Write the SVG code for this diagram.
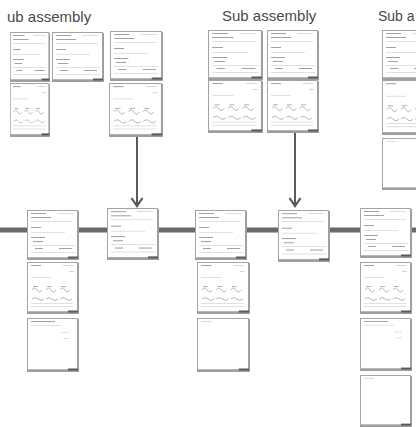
<svg xmlns="http://www.w3.org/2000/svg" xmlns:xlink="http://www.w3.org/1999/xlink" width="416" height="427" viewBox="0 0 416 427">
<style>
.title{font-family:"Liberation Sans",Arial,sans-serif;font-size:15px;fill:#4a4a4a}
.frame{fill:#fff;stroke:#a4a4a4;stroke-width:1}
.shadow{fill:#9e9e9e}
.tick{fill:#5a5a5a}
.t1{fill:#a2a2a2}
.t2{fill:#cdcdcd}
.wave{fill:none;stroke:#b0b0b0;stroke-width:0.9}
.main{stroke:#6a6a6a;stroke-width:5}
.arrow{stroke:#5a5a5a;stroke-width:2;fill:none}
</style>
<defs>
<marker id="ah" viewBox="0 0 12 14" refX="10" refY="7" markerWidth="12" markerHeight="14" markerUnits="userSpaceOnUse" orient="auto">
<path d="M2 1.5 L10 7 L2 12.5" fill="none" stroke="#5a5a5a" stroke-width="2.2"/>
</marker>
<symbol id="form" viewBox="0 0 52 50" preserveAspectRatio="none">
<rect class="frame" x="0.5" y="0.5" width="50" height="47.5"/>
<rect class="shadow" x="0" y="47.5" width="52" height="2.5"/>
<rect class="shadow" x="50.5" y="1" width="1.5" height="48"/>
<rect class="tick" x="41" y="46.5" width="10" height="2"/>
<rect class="t1" x="4" y="3" width="15" height="1"/>
<rect class="t2" x="30" y="3" width="16" height="0.7"/>
<rect class="t1" x="4" y="7" width="20" height="1"/>
<rect class="t2" x="4" y="11" width="42" height="0.6"/>
<rect class="t1" x="4" y="17" width="10" height="1"/>
<rect class="t2" x="4" y="22" width="34" height="0.6"/>
<rect class="t1" x="4" y="27" width="14" height="1"/>
<rect class="t1" x="6" y="31" width="10" height="1"/>
<rect class="t2" x="4" y="35" width="44" height="0.6"/>
<rect class="t1" x="8" y="38" width="8" height="1"/>
<rect class="t1" x="32" y="38" width="13" height="1"/>
<rect class="t2" x="4" y="42" width="44" height="0.6"/>
</symbol>
<symbol id="chart" viewBox="0 0 52 52" preserveAspectRatio="none">
<rect class="frame" x="0.5" y="0.5" width="50" height="49.5"/>
<rect class="shadow" x="0" y="49.5" width="52" height="2.5"/>
<rect class="shadow" x="50.5" y="1" width="1.5" height="50"/>
<rect class="tick" x="41" y="48.5" width="10" height="2"/>
<rect class="t1" x="4" y="3" width="10" height="1"/>
<rect class="t2" x="36" y="3" width="10" height="0.8"/>
<rect class="t2" x="42" y="9" width="5" height="0.8"/>
<rect class="t2" x="4" y="15" width="20" height="0.6"/>
<path class="wave" d="M5 28 q2.5 -4 5 0 q2.5 4 5 0 M19 28 q2.5 -4 5 0 q2.5 4 5 0 M33 28 q2.5 -4 5 0 q2.5 4 5 0"/>
<rect class="t1" x="6" y="24" width="5" height="0.8"/>
<rect class="t1" x="20" y="24" width="5" height="0.8"/>
<rect class="t1" x="34" y="24" width="5" height="0.8"/>
<path class="wave" d="M5 37 q3 -3 6 0 q3 3 6 0 M19 37 q3 -3 6 0 q3 3 6 0 M33 37 q3 -3 6 0 q3 3 6 0"/>
<rect class="t2" x="4" y="41" width="42" height="0.6"/>
<rect class="t2" x="4" y="44" width="42" height="0.6"/>
</symbol>
<symbol id="blank" viewBox="0 0 52 54" preserveAspectRatio="none">
<rect class="frame" x="0.5" y="0.5" width="50" height="51.5"/>
<rect class="shadow" x="0" y="51.5" width="52" height="2.5"/>
<rect class="shadow" x="50.5" y="1" width="1.5" height="52"/>
<rect class="tick" x="41" y="50.5" width="10" height="2"/>
<rect class="t1" x="4" y="3" width="24" height="1"/>
<rect class="t2" x="4" y="7" width="30" height="0.6"/>
<rect class="t2" x="34" y="14" width="8" height="0.6"/>
<rect class="t2" x="36" y="20" width="6" height="0.6"/>
</symbol>
<symbol id="empty" viewBox="0 0 52 54" preserveAspectRatio="none">
<rect class="frame" x="0.5" y="0.5" width="50" height="51.5"/>
<rect class="shadow" x="0" y="51.5" width="52" height="2.5"/>
<rect class="shadow" x="50.5" y="1" width="1.5" height="52"/>
<rect class="tick" x="41" y="50.5" width="10" height="2"/>
<rect class="t2" x="4" y="3" width="10" height="0.8"/>
</symbol>
</defs>
<rect width="416" height="427" fill="#fff"/>

<g id="titles">
<text class="title" x="7" y="22">ub assembly</text>
<text class="title" x="222" y="21">Sub assembly</text>
<text class="title" x="378" y="21" style="font-size:14px">Sub a</text>
</g>

<g id="connectors">
<line class="main" x1="0" y1="230" x2="416" y2="230"/>
<line class="arrow" x1="137" y1="137" x2="137" y2="206" marker-end="url(#ah)"/>
<line class="arrow" x1="295" y1="133" x2="295" y2="206" marker-end="url(#ah)"/>
</g>

<g id="sub1">
<g id="s1a"><use href="#form" x="10" y="32" width="40" height="50"/><use href="#chart" x="10" y="83" width="40" height="54"/></g>
<g id="s1b"><use href="#form" x="52" y="32" width="52" height="50"/></g>
<g id="s1c"><use href="#form" x="110" y="31" width="53" height="50"/><use href="#chart" x="109" y="83" width="54" height="54"/></g>
</g>

<g id="sub2">
<g id="s2a"><use href="#form" x="208" y="30" width="55" height="50"/><use href="#chart" x="208" y="80" width="55" height="53"/></g>
<g id="s2b"><use href="#form" x="267" y="30" width="52" height="50"/><use href="#chart" x="267" y="80" width="52" height="53"/></g>
</g>

<g id="sub3">
<g id="s3a"><use href="#form" x="382" y="30" width="52" height="50"/><use href="#chart" x="382" y="80" width="52" height="55"/><use href="#empty" x="382" y="138" width="52" height="52"/></g>
</g>

<g id="stations">
<g id="st1"><use href="#form" x="27" y="210" width="52" height="50"/><use href="#chart" x="27" y="262" width="52" height="52"/><use href="#blank" x="27" y="318" width="52" height="54"/></g>
<g id="st2"><use href="#form" x="107" y="208" width="52" height="52"/></g>
<g id="st3"><use href="#form" x="195" y="210" width="52" height="50"/><use href="#chart" x="197" y="262" width="53" height="52"/><use href="#empty" x="197" y="318" width="53" height="54"/></g>
<g id="st4"><use href="#form" x="278" y="210" width="52" height="52"/></g>
<g id="st5"><use href="#form" x="360" y="208" width="52" height="50"/><use href="#chart" x="360" y="262" width="52" height="52"/><use href="#blank" x="360" y="318" width="52" height="53"/><use href="#empty" x="360" y="375" width="52" height="52"/></g>
</g>
</svg>
